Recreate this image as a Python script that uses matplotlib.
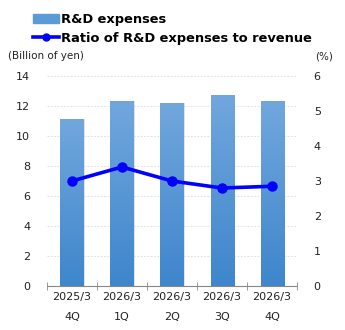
import matplotlib.pyplot as plt
import numpy as np
from matplotlib.colors import LinearSegmentedColormap

# data
periods = ['2025/3\n4Q', '2026/3\n1Q', '2026/3\n2Q', '2026/3\n3Q', '2026/3\n4Q']
rd_expenses = [11.1, 12.3, 12.2, 12.7, 12.3]      # billion of yen
rd_ratio = [3.0, 3.4, 3.0, 2.8, 2.85]              # % of revenue
left_ticks = [0, 2, 4, 6, 8, 10, 12, 14]
right_ticks = [0, 1, 2, 3, 4, 5, 6]

fig = plt.figure(figsize=(3.45, 3.3), dpi=100)
ax = fig.add_axes([0.136, 0.133, 0.725, 0.637])
ax2 = ax.twinx()

x = np.arange(len(periods))
bw = 0.46
bars = ax.bar(x, rd_expenses, width=bw, color='#5b9bd5', zorder=2)

# vertical gradient on each bar
cmap = LinearSegmentedColormap.from_list('bl', ['#3f86cc', '#71a7dd'])
grad = np.linspace(0, 1, 256).reshape(-1, 1)
for b in bars:
    bx, by = b.get_x(), b.get_y()
    w, h = b.get_width(), b.get_height()
    # soft shadow to the right
    ax.bar(bx + w / 2 + 0.03, h, width=w, color='#d0d0d0', alpha=0.6, zorder=1.5)
    im = ax.imshow(grad, extent=[bx, bx + w, by, by + h], origin='lower',
                   aspect='auto', cmap=cmap, zorder=2.1)
    im.set_clip_path(b)

ax.set_xlim(-0.5, len(periods) - 0.5)
ax.set_ylim(0, 14)
ax.set_yticks(left_ticks)
ax.yaxis.grid(True, color='#d9d9d9', linestyle=(0, (2, 2)), linewidth=0.6)
ax.set_axisbelow(True)

ax2.plot(x, rd_ratio, color='#0000ff', linewidth=2.6, marker='o',
         markersize=6.5, zorder=3)
ax2.set_ylim(0, 6)
ax2.set_yticks(right_ticks)

for a in (ax, ax2):
    for s in ['top', 'left', 'right']:
        a.spines[s].set_visible(False)
    a.tick_params(axis='y', length=0, labelsize=8, colors='#222222')
ax2.spines['bottom'].set_visible(False)
ax.spines['bottom'].set_color('#888888')
ax.tick_params(axis='y', pad=12)
ax2.tick_params(axis='y', pad=12)

ax.set_xticks(x)
ax.set_xticklabels(periods, fontsize=8, linespacing=2.3, color='#222222')
ax.tick_params(axis='x', length=0, pad=4)
ax.set_xticks(np.arange(-0.5, len(periods)), minor=True)
ax.tick_params(axis='x', which='minor', length=6, color='#888888', direction='inout')

fig.text(0.023, 0.82, '(Billion of yen)', fontsize=7.5, color='#222222')
fig.text(0.965, 0.82, '(%)', fontsize=7.5, color='#222222', ha='right')

handles = [plt.Rectangle((0, 0), 1, 1, color='#5b9bd5'),
           plt.Line2D([], [], color='#0000ff', linewidth=2.6, marker='o', markersize=5)]
leg = fig.legend(handles, ['R&D expenses', 'Ratio of R&D expenses to revenue'],
                 loc='upper left', bbox_to_anchor=(0.07, 0.989), frameon=False,
                 prop={'weight': 'bold', 'size': 9.4}, handlelength=2.0,
                 handletextpad=0.15, labelspacing=0.48, borderaxespad=0.3)

fig.savefig('out.png', dpi=100)
